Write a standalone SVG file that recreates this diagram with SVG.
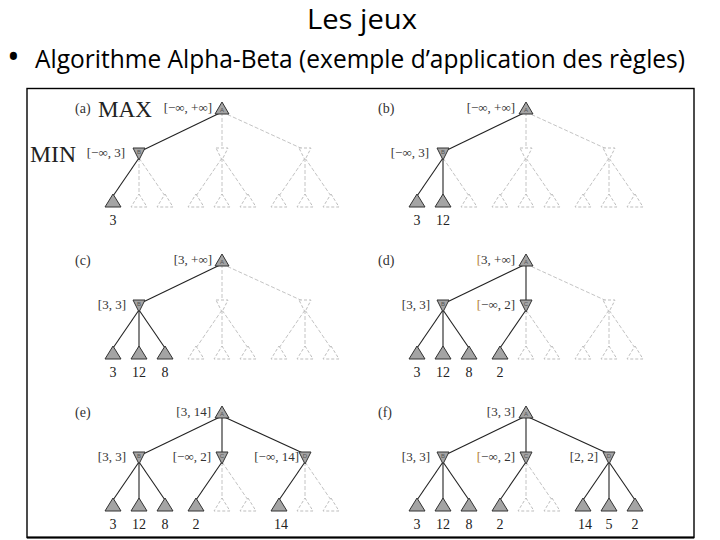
<svg xmlns="http://www.w3.org/2000/svg" width="720" height="540" viewBox="0 0 720 540">
<style>
.t{font-family:"Liberation Serif","DejaVu Serif",serif;fill:#222}
.iv{font-family:"Liberation Serif","DejaVu Serif",serif;font-size:13px;fill:#333;text-anchor:end}
.lv{font-family:"Liberation Serif","DejaVu Serif",serif;font-size:14px;fill:#222;text-anchor:middle}
.pl{font-family:"Liberation Serif","DejaVu Serif",serif;font-size:14px;fill:#333}
.nl{font-family:"Liberation Sans",sans-serif;font-size:6px;fill:#555;text-anchor:middle}
.s{fill:#a4a4a4;stroke:#333;stroke-width:1}
.d{fill:#fff;stroke:#bdbdbd;stroke-width:1;stroke-dasharray:3 2}
.es{stroke:#222;stroke-width:1.1;fill:none}
.ed{stroke:#c4c4c4;stroke-width:1;stroke-dasharray:4 2;fill:none}
.br{fill:#b07a35}
.h{font-family:"Open Sans","Noto Sans","Liberation Sans",sans-serif;fill:#000}
</style>
<rect width="720" height="540" fill="#fff"/>
<text class="h" x="362" y="29" font-size="28" text-anchor="middle" textLength="110" lengthAdjust="spacingAndGlyphs">Les jeux</text>
<text class="h" x="7" y="69" font-size="34">•</text>
<text class="h" x="35" y="68" font-size="25" textLength="650" lengthAdjust="spacingAndGlyphs">Algorithme Alpha-Beta (exemple d’application des règles)</text>
<rect x="27" y="88.5" width="667" height="449" fill="none" stroke="#000" stroke-width="1.4"/>
<line x1="27" y1="537.5" x2="694" y2="537.5" stroke="#000" stroke-width="2"/>
<text class="t" x="98" y="117" font-size="23" textLength="54" lengthAdjust="spacingAndGlyphs">MAX</text>
<text class="t" x="30" y="162" font-size="23" textLength="46" lengthAdjust="spacingAndGlyphs">MIN</text>

<!-- Panel a -->
<g id="panel-a">
<text class="pl" x="75" y="113">(a)</text>
<g id="a-connectors">
<line class="es" x1="222" y1="112" x2="139" y2="152"/>
<line class="ed" x1="222" y1="112" x2="222" y2="150"/>
<line class="ed" x1="222" y1="112" x2="305" y2="150"/>
<line class="es" x1="139" y1="158" x2="113" y2="196"/>
<line class="ed" x1="139" y1="158" x2="139" y2="196"/>
<line class="ed" x1="139" y1="158" x2="165" y2="196"/>
<line class="ed" x1="222" y1="158" x2="196" y2="196"/>
<line class="ed" x1="222" y1="158" x2="222" y2="196"/>
<line class="ed" x1="222" y1="158" x2="248" y2="196"/>
<line class="ed" x1="305" y1="158" x2="279" y2="196"/>
<line class="ed" x1="305" y1="158" x2="305" y2="196"/>
<line class="ed" x1="305" y1="158" x2="331" y2="196"/>
</g>
<g id="a-A"><polygon class="s" points="222,102 229,114 215,114"/><text class="nl" x="222" y="112">A</text><text class="iv" x="212" y="112">[−∞, +∞]</text></g>
<g id="a-B"><polygon class="s" points="133,148 145,148 139,160"/><text class="nl" x="139" y="154">B</text><text class="iv" x="125" y="157">[−∞, 3]</text></g>
<g id="a-C"><polygon class="d" points="216,148 228,148 222,160"/></g>
<g id="a-D"><polygon class="d" points="299,148 311,148 305,160"/></g>
<g id="a-L1"><polygon class="s" points="113,194 121,207 105,207"/><text class="lv" x="113" y="225">3</text></g>
<g id="a-L2"><polygon class="d" points="139,194 147,207 131,207"/></g>
<g id="a-L3"><polygon class="d" points="165,194 173,207 157,207"/></g>
<g id="a-L4"><polygon class="d" points="196,194 204,207 188,207"/></g>
<g id="a-L5"><polygon class="d" points="222,194 230,207 214,207"/></g>
<g id="a-L6"><polygon class="d" points="248,194 256,207 240,207"/></g>
<g id="a-L7"><polygon class="d" points="279,194 287,207 271,207"/></g>
<g id="a-L8"><polygon class="d" points="305,194 313,207 297,207"/></g>
<g id="a-L9"><polygon class="d" points="331,194 339,207 323,207"/></g>
</g>

<!-- Panel b -->
<g id="panel-b" transform="translate(304,0)">
<text class="pl" x="74" y="113">(b)</text>
<g id="b-connectors">
<line class="es" x1="222" y1="112" x2="139" y2="152"/>
<line class="ed" x1="222" y1="112" x2="222" y2="150"/>
<line class="ed" x1="222" y1="112" x2="305" y2="150"/>
<line class="es" x1="139" y1="158" x2="113" y2="196"/>
<line class="es" x1="139" y1="158" x2="139" y2="196"/>
<line class="ed" x1="139" y1="158" x2="165" y2="196"/>
<line class="ed" x1="222" y1="158" x2="196" y2="196"/>
<line class="ed" x1="222" y1="158" x2="222" y2="196"/>
<line class="ed" x1="222" y1="158" x2="248" y2="196"/>
<line class="ed" x1="305" y1="158" x2="279" y2="196"/>
<line class="ed" x1="305" y1="158" x2="305" y2="196"/>
<line class="ed" x1="305" y1="158" x2="331" y2="196"/>
</g>
<g id="b-A"><polygon class="s" points="222,102 229,114 215,114"/><text class="nl" x="222" y="112">A</text><text class="iv" x="211" y="112">[−∞, +∞]</text></g>
<g id="b-B"><polygon class="s" points="133,148 145,148 139,160"/><text class="nl" x="139" y="154">B</text><text class="iv" x="125" y="157">[−∞, 3]</text></g>
<g id="b-C"><polygon class="d" points="216,148 228,148 222,160"/></g>
<g id="b-D"><polygon class="d" points="299,148 311,148 305,160"/></g>
<g id="b-L1"><polygon class="s" points="113,194 121,207 105,207"/><text class="lv" x="113" y="225">3</text></g>
<g id="b-L2"><polygon class="s" points="139,194 147,207 131,207"/><text class="lv" x="139" y="225">12</text></g>
<g id="b-L3"><polygon class="d" points="165,194 173,207 157,207"/></g>
<g id="b-L4"><polygon class="d" points="196,194 204,207 188,207"/></g>
<g id="b-L5"><polygon class="d" points="222,194 230,207 214,207"/></g>
<g id="b-L6"><polygon class="d" points="248,194 256,207 240,207"/></g>
<g id="b-L7"><polygon class="d" points="279,194 287,207 271,207"/></g>
<g id="b-L8"><polygon class="d" points="305,194 313,207 297,207"/></g>
<g id="b-L9"><polygon class="d" points="331,194 339,207 323,207"/></g>
</g>

<!-- Panel c -->
<g id="panel-c" transform="translate(0,152)">
<text class="pl" x="75" y="113">(c)</text>
<g id="c-connectors">
<line class="es" x1="222" y1="112" x2="139" y2="152"/>
<line class="ed" x1="222" y1="112" x2="222" y2="150"/>
<line class="ed" x1="222" y1="112" x2="305" y2="150"/>
<line class="es" x1="139" y1="158" x2="113" y2="196"/>
<line class="es" x1="139" y1="158" x2="139" y2="196"/>
<line class="es" x1="139" y1="158" x2="165" y2="196"/>
<line class="ed" x1="222" y1="158" x2="196" y2="196"/>
<line class="ed" x1="222" y1="158" x2="222" y2="196"/>
<line class="ed" x1="222" y1="158" x2="248" y2="196"/>
<line class="ed" x1="305" y1="158" x2="279" y2="196"/>
<line class="ed" x1="305" y1="158" x2="305" y2="196"/>
<line class="ed" x1="305" y1="158" x2="331" y2="196"/>
</g>
<g id="c-A"><polygon class="s" points="222,102 229,114 215,114"/><text class="nl" x="222" y="112">A</text><text class="iv" x="212" y="112">[3, +∞]</text></g>
<g id="c-B"><polygon class="s" points="133,148 145,148 139,160"/><text class="nl" x="139" y="154">B</text><text class="iv" x="126" y="157">[3, 3]</text></g>
<g id="c-C"><polygon class="d" points="216,148 228,148 222,160"/></g>
<g id="c-D"><polygon class="d" points="299,148 311,148 305,160"/></g>
<g id="c-L1"><polygon class="s" points="113,194 121,207 105,207"/><text class="lv" x="113" y="225">3</text></g>
<g id="c-L2"><polygon class="s" points="139,194 147,207 131,207"/><text class="lv" x="139" y="225">12</text></g>
<g id="c-L3"><polygon class="s" points="165,194 173,207 157,207"/><text class="lv" x="165" y="225">8</text></g>
<g id="c-L4"><polygon class="d" points="196,194 204,207 188,207"/></g>
<g id="c-L5"><polygon class="d" points="222,194 230,207 214,207"/></g>
<g id="c-L6"><polygon class="d" points="248,194 256,207 240,207"/></g>
<g id="c-L7"><polygon class="d" points="279,194 287,207 271,207"/></g>
<g id="c-L8"><polygon class="d" points="305,194 313,207 297,207"/></g>
<g id="c-L9"><polygon class="d" points="331,194 339,207 323,207"/></g>
</g>

<!-- Panel d -->
<g id="panel-d" transform="translate(304,152)">
<text class="pl" x="74" y="113">(d)</text>
<g id="d-connectors">
<line class="es" x1="222" y1="112" x2="139" y2="152"/>
<line class="es" x1="222" y1="112" x2="222" y2="150"/>
<line class="ed" x1="222" y1="112" x2="305" y2="150"/>
<line class="es" x1="139" y1="158" x2="113" y2="196"/>
<line class="es" x1="139" y1="158" x2="139" y2="196"/>
<line class="es" x1="139" y1="158" x2="165" y2="196"/>
<line class="es" x1="222" y1="158" x2="196" y2="196"/>
<line class="ed" x1="222" y1="158" x2="222" y2="196"/>
<line class="ed" x1="222" y1="158" x2="248" y2="196"/>
<line class="ed" x1="305" y1="158" x2="279" y2="196"/>
<line class="ed" x1="305" y1="158" x2="305" y2="196"/>
<line class="ed" x1="305" y1="158" x2="331" y2="196"/>
</g>
<g id="d-A"><polygon class="s" points="222,102 229,114 215,114"/><text class="nl" x="222" y="112">A</text><text class="iv" x="211" y="112"><tspan class="br">[</tspan>3, +∞]</text></g>
<g id="d-B"><polygon class="s" points="133,148 145,148 139,160"/><text class="nl" x="139" y="154">B</text><text class="iv" x="126" y="157">[3, 3]</text></g>
<g id="d-C"><polygon class="s" points="216,148 228,148 222,160"/><text class="nl" x="222" y="154">C</text><text class="iv" x="211" y="157"><tspan class="br">[</tspan>−∞, 2]</text></g>
<g id="d-D"><polygon class="d" points="299,148 311,148 305,160"/></g>
<g id="d-L1"><polygon class="s" points="113,194 121,207 105,207"/><text class="lv" x="113" y="225">3</text></g>
<g id="d-L2"><polygon class="s" points="139,194 147,207 131,207"/><text class="lv" x="139" y="225">12</text></g>
<g id="d-L3"><polygon class="s" points="165,194 173,207 157,207"/><text class="lv" x="165" y="225">8</text></g>
<g id="d-L4"><polygon class="s" points="196,194 204,207 188,207"/><text class="lv" x="196" y="225">2</text></g>
<g id="d-L5"><polygon class="d" points="222,194 230,207 214,207"/></g>
<g id="d-L6"><polygon class="d" points="248,194 256,207 240,207"/></g>
<g id="d-L7"><polygon class="d" points="279,194 287,207 271,207"/></g>
<g id="d-L8"><polygon class="d" points="305,194 313,207 297,207"/></g>
<g id="d-L9"><polygon class="d" points="331,194 339,207 323,207"/></g>
</g>

<!-- Panel e -->
<g id="panel-e" transform="translate(0,304)">
<text class="pl" x="75" y="113">(e)</text>
<g id="e-connectors">
<line class="es" x1="222" y1="112" x2="139" y2="152"/>
<line class="es" x1="222" y1="112" x2="222" y2="150"/>
<line class="es" x1="222" y1="112" x2="305" y2="150"/>
<line class="es" x1="139" y1="158" x2="113" y2="196"/>
<line class="es" x1="139" y1="158" x2="139" y2="196"/>
<line class="es" x1="139" y1="158" x2="165" y2="196"/>
<line class="es" x1="222" y1="158" x2="196" y2="196"/>
<line class="ed" x1="222" y1="158" x2="222" y2="196"/>
<line class="ed" x1="222" y1="158" x2="248" y2="196"/>
<line class="es" x1="305" y1="158" x2="279" y2="196"/>
<line class="ed" x1="305" y1="158" x2="305" y2="196"/>
<line class="ed" x1="305" y1="158" x2="331" y2="196"/>
</g>
<g id="e-A"><polygon class="s" points="222,102 229,114 215,114"/><text class="nl" x="222" y="112">A</text><text class="iv" x="211" y="112">[3, 14]</text></g>
<g id="e-B"><polygon class="s" points="133,148 145,148 139,160"/><text class="nl" x="139" y="154">B</text><text class="iv" x="126" y="157">[3, 3]</text></g>
<g id="e-C"><polygon class="s" points="216,148 228,148 222,160"/><text class="nl" x="222" y="154">C</text><text class="iv" x="211" y="157">[−∞, 2]</text></g>
<g id="e-D"><polygon class="s" points="299,148 311,148 305,160"/><text class="nl" x="305" y="154">D</text><text class="iv" x="299" y="157">[−∞, 14]</text></g>
<g id="e-L1"><polygon class="s" points="113,194 121,207 105,207"/><text class="lv" x="113" y="225">3</text></g>
<g id="e-L2"><polygon class="s" points="139,194 147,207 131,207"/><text class="lv" x="139" y="225">12</text></g>
<g id="e-L3"><polygon class="s" points="165,194 173,207 157,207"/><text class="lv" x="165" y="225">8</text></g>
<g id="e-L4"><polygon class="s" points="196,194 204,207 188,207"/><text class="lv" x="196" y="225">2</text></g>
<g id="e-L5"><polygon class="d" points="222,194 230,207 214,207"/></g>
<g id="e-L6"><polygon class="d" points="248,194 256,207 240,207"/></g>
<g id="e-L7"><polygon class="s" points="279,194 287,207 271,207"/><text class="lv" x="281" y="225">14</text></g>
<g id="e-L8"><polygon class="d" points="305,194 313,207 297,207"/></g>
<g id="e-L9"><polygon class="d" points="331,194 339,207 323,207"/></g>
</g>

<!-- Panel f -->
<g id="panel-f" transform="translate(304,304)">
<text class="pl" x="74" y="113">(f)</text>
<g id="f-connectors">
<line class="es" x1="222" y1="112" x2="139" y2="152"/>
<line class="es" x1="222" y1="112" x2="222" y2="150"/>
<line class="es" x1="222" y1="112" x2="305" y2="150"/>
<line class="es" x1="139" y1="158" x2="113" y2="196"/>
<line class="es" x1="139" y1="158" x2="139" y2="196"/>
<line class="es" x1="139" y1="158" x2="165" y2="196"/>
<line class="es" x1="222" y1="158" x2="196" y2="196"/>
<line class="ed" x1="222" y1="158" x2="222" y2="196"/>
<line class="ed" x1="222" y1="158" x2="248" y2="196"/>
<line class="es" x1="305" y1="158" x2="279" y2="196"/>
<line class="es" x1="305" y1="158" x2="305" y2="196"/>
<line class="es" x1="305" y1="158" x2="331" y2="196"/>
</g>
<g id="f-A"><polygon class="s" points="222,102 229,114 215,114"/><text class="nl" x="222" y="112">A</text><text class="iv" x="211" y="112">[3, 3]</text></g>
<g id="f-B"><polygon class="s" points="133,148 145,148 139,160"/><text class="nl" x="139" y="154">B</text><text class="iv" x="126" y="157">[3, 3]</text></g>
<g id="f-C"><polygon class="s" points="216,148 228,148 222,160"/><text class="nl" x="222" y="154">C</text><text class="iv" x="211" y="157"><tspan class="br">[</tspan>−∞, 2]</text></g>
<g id="f-D"><polygon class="s" points="299,148 311,148 305,160"/><text class="nl" x="305" y="154">D</text><text class="iv" x="294" y="157">[2, 2]</text></g>
<g id="f-L1"><polygon class="s" points="113,194 121,207 105,207"/><text class="lv" x="113" y="225">3</text></g>
<g id="f-L2"><polygon class="s" points="139,194 147,207 131,207"/><text class="lv" x="139" y="225">12</text></g>
<g id="f-L3"><polygon class="s" points="165,194 173,207 157,207"/><text class="lv" x="165" y="225">8</text></g>
<g id="f-L4"><polygon class="s" points="196,194 204,207 188,207"/><text class="lv" x="196" y="225">2</text></g>
<g id="f-L5"><polygon class="d" points="222,194 230,207 214,207"/></g>
<g id="f-L6"><polygon class="d" points="248,194 256,207 240,207"/></g>
<g id="f-L7"><polygon class="s" points="279,194 287,207 271,207"/><text class="lv" x="281" y="225">14</text></g>
<g id="f-L8"><polygon class="s" points="305,194 313,207 297,207"/><text class="lv" x="305" y="225">5</text></g>
<g id="f-L9"><polygon class="s" points="331,194 339,207 323,207"/><text class="lv" x="331" y="225">2</text></g>
</g>
</svg>
